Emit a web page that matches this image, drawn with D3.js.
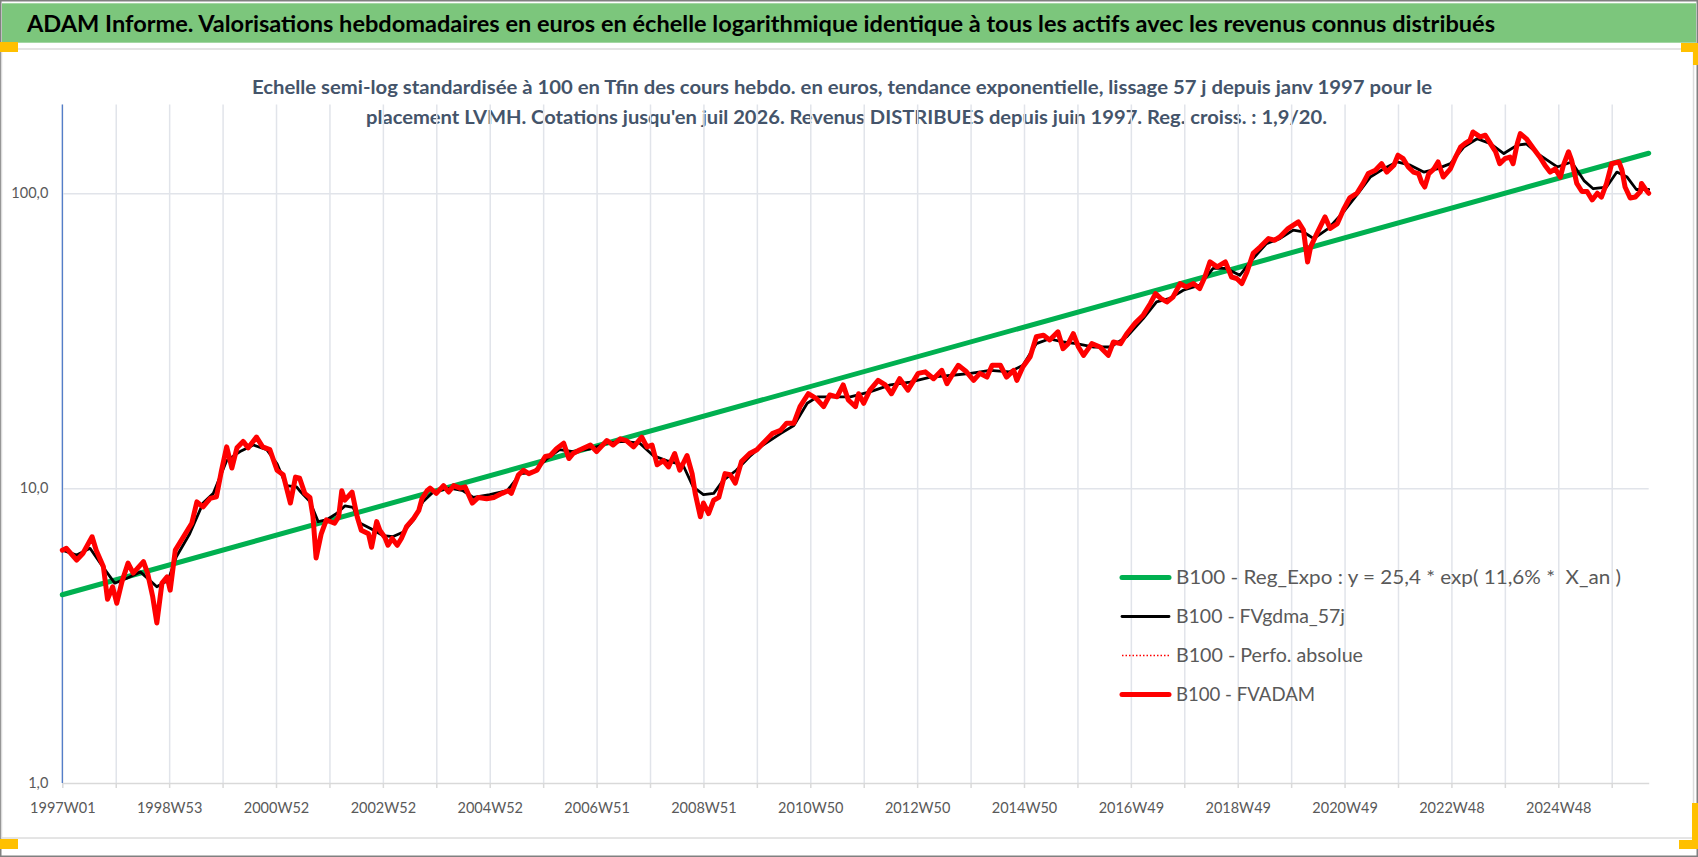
<!DOCTYPE html>
<html>
<head>
<meta charset="utf-8">
<script src="https://cdn.jsdelivr.net/npm/d3@7"></script>
<style>
	body{margin:0;background:#ffffff;}
	svg{display:block;}
	text{font-family:Lato, "Open Sans", sans-serif;}
</style>
</head>
<body>
<script>
//weekly category axis, 1997W01 .. mid 2026
var nWeeks = 1545;
//a label every 104 weeks
var tickLabels = ["1997W01","1998W53","2000W52","2002W52","2004W52","2006W51","2008W51","2010W50",
	"2012W50","2014W50","2016W49","2018W49","2020W49","2022W48","2024W48"];
var yTicks = [1, 10, 100];

var titleText = "ADAM Informe. Valorisations hebdomadaires en euros en échelle logarithmique identique à tous les actifs avec les revenus connus distribués";
var subtitleLines = [
	"Echelle semi-log standardisée à 100 en Tfin des cours hebdo. en euros, tendance exponentielle, lissage 57 j depuis janv 1997 pour le",
	"placement LVMH. Cotations jusqu'en juil 2026. Revenus DISTRIBUES depuis juin 1997. Reg. croiss. : 1,9/20."
];
var legendNames = [
	"B100 - Reg_Expo : y = 25,4 * exp( 11,6% *  X_an )",
	"B100 - FVgdma_57j",
	"B100 - Perfo. absolue",
	"B100 - FVADAM"
];

//series as [week index, value]
var regExpo = [[0,4.35],[1544,136.7]];

var fvgdma = [[0,6.16],[14,5.93],[27,6.25],[37,5.56],[51,4.76],[63,4.95],[76,5.2],[92,4.63],[103,4.87],
	[111,5.85],[124,7.0],[137,8.9],[147,9.6],[160,12.4],[173,13.3],[186,14.0],[199,13.5],[209,12.1],
	[218,10.2],[228,10.1],[231,9.8],[241,9.0],[249,7.7],[257,7.8],[267,8.2],[275,8.7],[283,8.6],
	[290,7.6],[300,7.3],[312,6.9],[322,6.85],[332,7.1],[342,7.8],[351,9.0],[361,9.7],[377,10],
	[390,9.8],[400,9.3],[416,9.5],[433,9.8],[446,11.2],[458,11.3],[472,12.6],[484,13.5],[497,13.3],
	[514,13.6],[530,14.2],[546,14.4],[562,14.2],[575,12.9],[588,12.4],[604,12.0],[614,10.1],[624,9.5],
	[634,9.6],[643,10.6],[656,11.5],[669,12.8],[682,14.0],[699,15.3],[712,16.3],[725,19.4],[735,20.4],
	[747,20.4],[767,20.4],[786,21.2],[806,22.4],[825,22.9],[845,23.8],[864,24.1],[884,24.5],[903,25.1],
	[922,24.8],[935,26.1],[948,30.9],[961,32.1],[974,31.3],[987,30.9],[1004,30.1],[1020,30.1],[1036,32.6],
	[1052,37.6],[1065,42.8],[1078,44.0],[1091,46.9],[1107,48.8],[1120,55.6],[1133,55.6],[1146,52.7],
	[1159,60.1],[1172,67.5],[1185,70.2],[1198,75.0],[1208,73.9],[1218,70.2],[1232,75.9],[1247,86.5],
	[1260,98.7],[1273,113.5],[1286,121],[1299,127.7],[1312,124.5],[1325,118],[1338,121],[1351,126],
	[1364,143.5],[1377,153],[1390,147.3],[1403,136.4],[1416,145.6],[1425,147],[1438,134.6],[1455,122.8],
	[1469,127.7],[1481,110.4],[1490,103.6],[1503,105],[1513,118],[1523,113.5],[1532,103],[1544,103]];

var fvadam = [[0,6.16],[4,6.25],[14,5.70],[20,6.0],[29,6.84],[33,6.16],[40,5.41],[44,4.2],[49,4.63],
	[53,4.07],[58,4.81],[64,5.57],[69,5.15],[79,5.63],[83,5.15],[88,4.28],[92,3.49],[97,4.76],[102,5.0],
	[105,4.51],[110,6.16],[116,6.66],[126,7.6],[131,8.98],[137,8.64],[144,9.23],[150,9.34],[155,11.5],
	[160,13.8],[165,11.7],[170,13.7],[176,14.4],[181,13.7],[189,14.9],[195,13.8],[202,13.5],[209,11.5],
	[215,11.1],[222,8.9],[227,10.9],[231,10.8],[236,9.6],[241,9.3],[244,8.0],[247,5.8],[252,7.0],
	[257,7.8],[265,7.6],[269,8.0],[272,9.8],[275,9.1],[282,9.7],[287,8.0],[291,7.2],[298,7.0],[301,6.3],
	[306,7.7],[309,7.2],[314,6.8],[317,6.4],[321,6.75],[326,6.4],[330,6.75],[335,7.4],[342,7.9],[347,8.4],
	[350,9.2],[355,9.8],[358,10.0],[364,9.6],[371,10.2],[376,9.7],[381,10.2],[387,10.0],[392,10.1],
	[399,8.9],[405,9.3],[413,9.2],[420,9.3],[428,9.6],[434,9.8],[437,9.6],[444,11.1],[449,11.5],
	[454,11.2],[462,11.5],[470,12.8],[475,12.9],[481,13.6],[488,14.2],[493,12.6],[497,13.1],[504,13.5],
	[514,14.0],[520,13.3],[530,14.5],[536,14.0],[543,14.7],[549,14.5],[556,13.8],[564,14.9],[569,13.8],
	[574,14.0],[579,12.0],[585,12.4],[590,11.8],[596,13.1],[601,11.5],[608,12.9],[613,11.2],[616,9.6],
	[621,8.0],[624,8.9],[629,8.2],[634,9.1],[639,9.3],[645,11.2],[650,11.1],[655,10.4],[661,12.3],
	[669,13.1],[676,13.5],[682,14.2],[691,15.3],[699,15.7],[705,16.6],[712,16.6],[718,18.9],[726,20.9],
	[734,20.1],[741,18.9],[747,20.7],[754,20.4],[760,22.4],[765,19.9],[772,18.9],[775,20.9],[780,19.4],
	[786,21.5],[794,23.2],[801,22.4],[807,20.9],[815,23.5],[823,21.5],[833,24.5],[840,24.8],[848,23.5],
	[856,25.1],[861,22.6],[867,24.5],[872,26.1],[880,24.8],[887,23.2],[893,24.5],[900,23.8],[905,26.1],
	[913,26.1],[919,23.8],[926,25.1],[929,23.2],[935,25.8],[942,27.9],[948,32.6],[955,33.0],[961,31.8],
	[969,33.9],[974,29.7],[979,30.9],[984,33.4],[989,30.1],[994,28.2],[1002,30.9],[1010,30.1],[1018,28.2],
	[1023,31.3],[1030,30.9],[1036,33.4],[1044,36.2],[1052,38.6],[1059,42.3],[1064,45.7],[1069,44.0],
	[1075,42.8],[1081,44.5],[1088,49.4],[1094,48.1],[1101,49.4],[1107,47.5],[1112,52.0],[1117,58.5],
	[1124,56.3],[1132,58.5],[1138,52.0],[1143,51.4],[1148,49.4],[1153,54.1],[1159,62.5],[1166,65.8],
	[1174,70.2],[1180,69.3],[1185,71.1],[1193,75.9],[1203,80.0],[1208,75.0],[1212,58.5],[1215,65.8],
	[1221,73],[1229,83.1],[1234,76],[1241,78.9],[1247,88.1],[1253,96.4],[1260,100],[1266,108],
	[1271,116.6],[1278,119.7],[1284,126],[1289,118],[1296,124.5],[1300,134.6],[1305,131],[1310,122.8],
	[1315,118],[1320,116.6],[1323,109],[1326,105],[1330,116.6],[1335,121],[1339,127.7],[1344,113.5],
	[1351,121],[1356,132.7],[1361,143.5],[1365,147.3],[1370,151.2],[1373,161.4],[1380,155.3],[1385,157.3],
	[1390,147.3],[1395,138.3],[1399,126],[1404,131],[1409,132.7],[1412,126],[1416,147],[1419,159.3],
	[1425,153],[1432,141.6],[1438,132.7],[1443,124.5],[1448,118],[1453,121],[1458,113.5],[1461,124.5],
	[1466,138.3],[1469,129.3],[1474,108],[1479,101.4],[1484,101.4],[1489,94.9],[1494,100],[1498,97.1],
	[1503,108],[1508,126],[1515,127.7],[1518,119.7],[1521,105],[1526,96.4],[1531,97.1],[1536,101.4],
	[1537,108],[1541,103],[1544,100]];

window.onload = function(){

	var w = 1698, h = 857;
	var left = 62.3, right = 1648.7, top = 104.5, bottom = 783;

	var svg = d3.select("body")
		.append("svg")
		.attr("width", w)
		.attr("height", h)
		.attr("class","container");

	//frame of the sheet
	svg.append("rect")
		.attr("x",0.75).attr("y",0.75)
		.attr("width",w-1.5).attr("height",h-1.5)
		.style("fill","#ffffff")
		.style("stroke","#808080")
		.style("stroke-width",1.5);

	//green title band
	svg.append("rect")
		.attr("x",2).attr("y",3.3)
		.attr("width",w-4).attr("height",39.4)
		.style("fill","#7cc67c");

	//chart area border
	svg.append("rect")
		.attr("x",1.5).attr("y",49)
		.attr("width",1692).attr("height",789)
		.style("fill","none")
		.style("stroke","#dcdcdc")
		.style("stroke-width",1.5);

	//orange selection handles
	var handles = [[0,42,18,10],[1681,43,17,9],[1693,43,5,22],[0,839,18,10],[1679,840,19,9],[1692,803,6,46]];
	svg.selectAll(".handle")
		.data(handles)
		.enter()
		.append("rect")
		.attr("x",function(d){ return d[0]; })
		.attr("y",function(d){ return d[1]; })
		.attr("width",function(d){ return d[2]; })
		.attr("height",function(d){ return d[3]; })
		.style("fill","#ffc000")
		.attr("class","handle");

	//title
	svg.append("text")
		.attr("x",27).attr("y",31.5)
		.attr("textLength",1468)
		.attr("lengthAdjust","spacingAndGlyphs")
		.style("font-size","22px")
		.style("font-weight","bold")
		.style("fill","#000000")
		.text(titleText)
		.attr("class","title");

	//subtitle, two lines
	var subX = [[252,1180],[366,961]];
	svg.selectAll(".subtitle")
		.data(subtitleLines)
		.enter()
		.append("text")
		.attr("x",function(d,i){ return subX[i][0]; })
		.attr("y",function(d,i){ return 94 + i*30; })
		.attr("textLength",function(d,i){ return subX[i][1]; })
		.attr("lengthAdjust","spacingAndGlyphs")
		.style("font-size","18px")
		.style("font-weight","bold")
		.style("fill","#44546a")
		.text(function(d){ return d; })
		.attr("class","subtitle");

	//scales
	var xScale = d3.scaleLinear()
		.domain([0, nWeeks-1])
		.range([left, right]);

	var yScale = d3.scaleLog()
		.domain([1, 200])
		.range([bottom, top]);

	//vertical grid every 52 weeks
	var gridWeeks = d3.range(0, nWeeks, 52);
	var xGrid = svg.append("g")
		.attr("transform","translate(0,"+bottom+")")
		.attr("class","xgrid")
		.call(d3.axisBottom(xScale)
			.tickValues(gridWeeks)
			.tickSize(-(bottom-top))
			.tickFormat(""));
	xGrid.select(".domain").remove();
	xGrid.selectAll("line").style("stroke","#e1e4ea").style("stroke-width",1.5);

	//horizontal grid
	var yGrid = svg.append("g")
		.attr("transform","translate("+left+",0)")
		.attr("class","ygrid")
		.call(d3.axisLeft(yScale)
			.tickValues([10,100])
			.tickSize(-(right-left))
			.tickFormat(""));
	yGrid.select(".domain").remove();
	yGrid.selectAll("line").style("stroke","#e1e4ea").style("stroke-width",1.5);

	//x axis with labels every other grid line
	var xAxis = svg.append("g")
		.attr("transform","translate(0,"+bottom+")")
		.attr("class","xaxis")
		.call(d3.axisBottom(xScale)
			.tickValues(gridWeeks)
			.tickSize(5)
			.tickSizeOuter(0)
			.tickPadding(15)
			.tickFormat(function(d,i){ return i % 2 == 0 ? tickLabels[i/2] : ""; }));
	xAxis.select(".domain").style("stroke","#d9d9d9").style("stroke-width",1.5);
	xAxis.selectAll("line").style("stroke","#d9d9d9").style("stroke-width",1.5);
	xAxis.selectAll("text")
		.style("font-size","14.5px")
		.style("fill","#595959")
		.style("font-family","Lato, sans-serif");

	//y axis
	var yAxis = svg.append("g")
		.attr("transform","translate("+left+",0)")
		.attr("class","yaxis")
		.call(d3.axisLeft(yScale)
			.tickValues(yTicks)
			.tickSize(0)
			.tickPadding(14)
			.tickFormat(function(d){ return d3.format(".1f")(d).replace(".",","); }));
	yAxis.select(".domain").remove();
	yAxis.selectAll("text")
		.style("font-size","14.5px")
		.style("fill","#595959")
		.style("font-family","Lato, sans-serif");

	//blue vertical axis line
	svg.append("line")
		.attr("x1",left).attr("x2",left)
		.attr("y1",top).attr("y2",bottom)
		.style("stroke","#4472c4")
		.style("stroke-width",1.2);

	//line generator
	var line = d3.line()
		.x(function(d){ return xScale(d[0]); })
		.y(function(d){ return yScale(d[1]); });

	var series = [
		{name:legendNames[0], data:regExpo, color:"#00b050", width:5, dash:null, textW:445},
		{name:legendNames[1], data:fvgdma, color:"#000000", width:2.8, dash:null, textW:169},
		{name:legendNames[2], data:fvadam, color:"#ff0000", width:1.5, dash:"1.5,2", textW:187},
		{name:legendNames[3], data:fvadam, color:"#ff0000", width:5, dash:null, textW:139}
	];

	svg.selectAll(".series")
		.data(series)
		.enter()
		.append("path")
		.attr("d",function(d){ return line(d.data); })
		.style("fill","none")
		.style("stroke",function(d){ return d.color; })
		.style("stroke-width",function(d){ return d.width; })
		.style("stroke-dasharray",function(d){ return d.dash; })
		.style("stroke-linejoin","round")
		.style("stroke-linecap","round")
		.attr("class","series");

	//legend
	var legend = svg.selectAll(".legend")
		.data(series)
		.enter()
		.append("g")
		.attr("transform",function(d,i){ return "translate(1121,"+(577.5 + i*39)+")"; })
		.attr("class","legend");

	legend.append("line")
		.attr("x1",1).attr("x2",48)
		.attr("y1",0).attr("y2",0)
		.style("stroke",function(d){ return d.color; })
		.style("stroke-width",function(d){ return d.width; })
		.style("stroke-dasharray",function(d){ return d.dash; })
		.style("stroke-linecap",function(d){ return d.dash ? "butt" : "round"; });

	legend.append("text")
		.attr("x",55)
		.attr("y",0)
		.attr("dy","0.35em")
		.attr("textLength",function(d){ return d.textW; })
		.attr("lengthAdjust","spacingAndGlyphs")
		.style("white-space","pre")
		.style("font-size","19.5px")
		.style("fill","#595959")
		.text(function(d){ return d.name; });
};
</script>
</body>
</html>
